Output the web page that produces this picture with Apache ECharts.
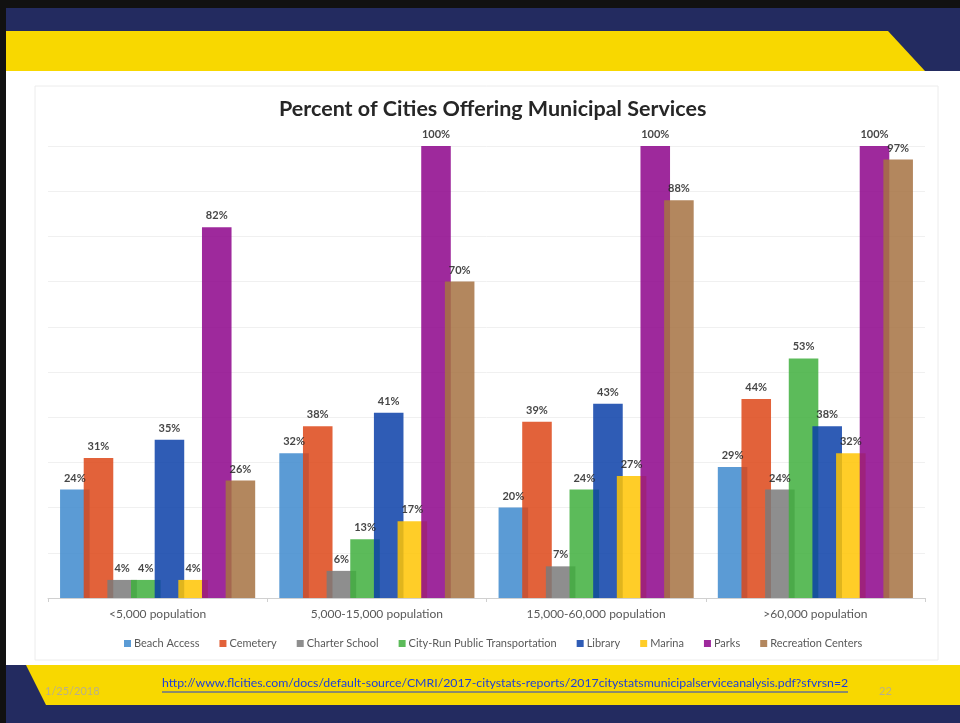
<!DOCTYPE html>
<html>
<head>
<meta charset="utf-8">
<script src="https://cdn.jsdelivr.net/npm/echarts@6/dist/echarts.min.js"></script>
<style>
  html, body { margin: 0; padding: 0; background: #ffffff; }
  #chart { width: 960px; height: 723px; }
</style>
</head>
<body>
<div id="chart"></div>
<script>
// categories and series
var categories = ['<5,000 population', '5,000-15,000 population', '15,000-60,000 population', '>60,000 population'];
var serviceNames = ['Beach Access', 'Cemetery', 'Charter School', 'City-Run Public Transportation', 'Library', 'Marina', 'Parks', 'Recreation Centers'];
var serviceColors = ['#5B9BD5', '#E2623A', '#8E8E8E', '#5DBB5A', '#2F5CB5', '#FFCD28', '#9E2A9C', '#B3875E'];

var beachAccess = [24, 32, 20, 29];
var cemetery = [31, 38, 39, 44];
var charterSchool = [4, 6, 7, 24];
var cityRunTransit = [4, 13, 24, 53];
var library = [35, 41, 43, 38];
var marina = [4, 17, 27, 32];
var parks = [82, 100, 100, 100];
var recreationCenters = [26, 70, 88, 97];

var serviceValues = [beachAccess, cemetery, charterSchool, cityRunTransit, library, marina, parks, recreationCenters];

var footerLink = 'http://www.flcities.com/docs/default-source/CMRI/2017-citystats-reports/2017citystatsmunicipalserviceanalysis.pdf?sfvrsn=2';
var footerDate = '1/25/2018';
var footerPage = '22';

var NAVY = '#232B60', YELLOW = '#F8D800';
var BAR_OPACITY = 0.85;

// bars are a bit see-through where they overlap; pre-darken so they look right on white
function baseColor(hex) {
    var out = [], k, v;
    for (k = 0; k < 3; k++) {
        v = parseInt(hex.substr(1 + k * 2, 2), 16);
        v = Math.round((v - 255 * (1 - BAR_OPACITY)) / BAR_OPACITY);
        out.push(Math.max(0, Math.min(255, v)));
    }
    return 'rgb(' + out.join(',') + ')';
}

var myChart = echarts.init(document.getElementById('chart'), null, { renderer: 'canvas' });

var seriesList = [], i;
for (i = 0; i < serviceNames.length; i++) {
    seriesList.push({
        name: serviceNames[i],
        type: 'bar',
        barGap: '-20%',
        barCategoryGap: '11%',
        data: serviceValues[i],
        itemStyle: { color: baseColor(serviceColors[i]), opacity: BAR_OPACITY },
        label: {
            show: true,
            position: 'top',
            distance: 6,
            formatter: '{c}%',
            fontFamily: 'Lato',
            fontWeight: 'bold',
            fontSize: 11,
            color: '#262626'
        }
    });
}

var option = {
    backgroundColor: NAVY,
    animation: false,
    color: serviceColors,
    textStyle: { fontFamily: 'Lato' },
    title: {
        text: 'Percent of Cities Offering Municipal Services',
        left: 274,
        top: 93,
        textStyle: { fontFamily: 'Lato', fontWeight: 'bold', fontSize: 21.5, color: '#262626' }
    },
    graphic: [
        // dark outer edge of the slide photo
        { type: 'rect', z: -100, shape: { x: 0, y: 0, width: 960, height: 8 }, style: { fill: '#111111' } },
        { type: 'rect', z: -100, shape: { x: 0, y: 0, width: 6, height: 723 }, style: { fill: '#111111' } },
        // white body
        { type: 'rect', z: -99, shape: { x: 6, y: 71, width: 954, height: 594 }, style: { fill: '#ffffff' } },
        // top yellow band
        { type: 'polygon', z: -99, shape: { points: [[6, 31], [888, 31], [925, 71], [6, 71]] }, style: { fill: YELLOW } },
        // bottom yellow band
        { type: 'polygon', z: -99, shape: { points: [[26, 665], [960, 665], [960, 705], [46, 705]] }, style: { fill: YELLOW } },
        // faint chart frame
        { type: 'rect', z: -98, shape: { x: 35, y: 86, width: 903, height: 574 }, style: { fill: 'none', stroke: '#ececec', lineWidth: 1 } },
        { type: 'text', z: 10, left: 162, top: 677, style: { text: footerLink, fill: '#1F3FD6', fontFamily: 'Lato', fontSize: 12.3 } },
        { type: 'line', z: 10, shape: { x1: 162, y1: 692, x2: 848, y2: 692 }, style: { stroke: '#1F3FD6', lineWidth: 1 } },
        { type: 'text', z: 10, left: 45, top: 686, style: { text: footerDate, fill: '#B9B08A', fontFamily: 'Lato', fontSize: 11 } },
        { type: 'text', z: 10, left: 879, top: 686, style: { text: footerPage, fill: '#B9B08A', fontFamily: 'Lato', fontSize: 11 } }
    ],
    legend: {
        data: serviceNames,
        bottom: 69,
        left: 119,
        itemWidth: 7,
        itemHeight: 7,
        itemGap: 20,
        icon: 'rect',
        textStyle: { fontFamily: 'Lato', fontSize: 11, color: '#595959', padding: [0, 0, 0, -2] }
    },
    grid: { left: 48, right: 35, top: 146, bottom: 125 },
    xAxis: {
        type: 'category',
        data: categories,
        axisLine: { lineStyle: { color: '#d0d0d0' } },
        axisTick: { show: true, length: 4, lineStyle: { color: '#d0d0d0' } },
        axisLabel: { fontFamily: 'Lato', fontSize: 12, color: '#595959', margin: 10 }
    },
    yAxis: {
        type: 'value',
        min: 0,
        max: 100,
        interval: 10,
        axisLabel: { show: false },
        axisLine: { show: false },
        axisTick: { show: false },
        splitLine: { lineStyle: { color: '#f0f0f0' } }
    },
    series: seriesList
};

myChart.setOption(option);
</script>
</body>
</html>
